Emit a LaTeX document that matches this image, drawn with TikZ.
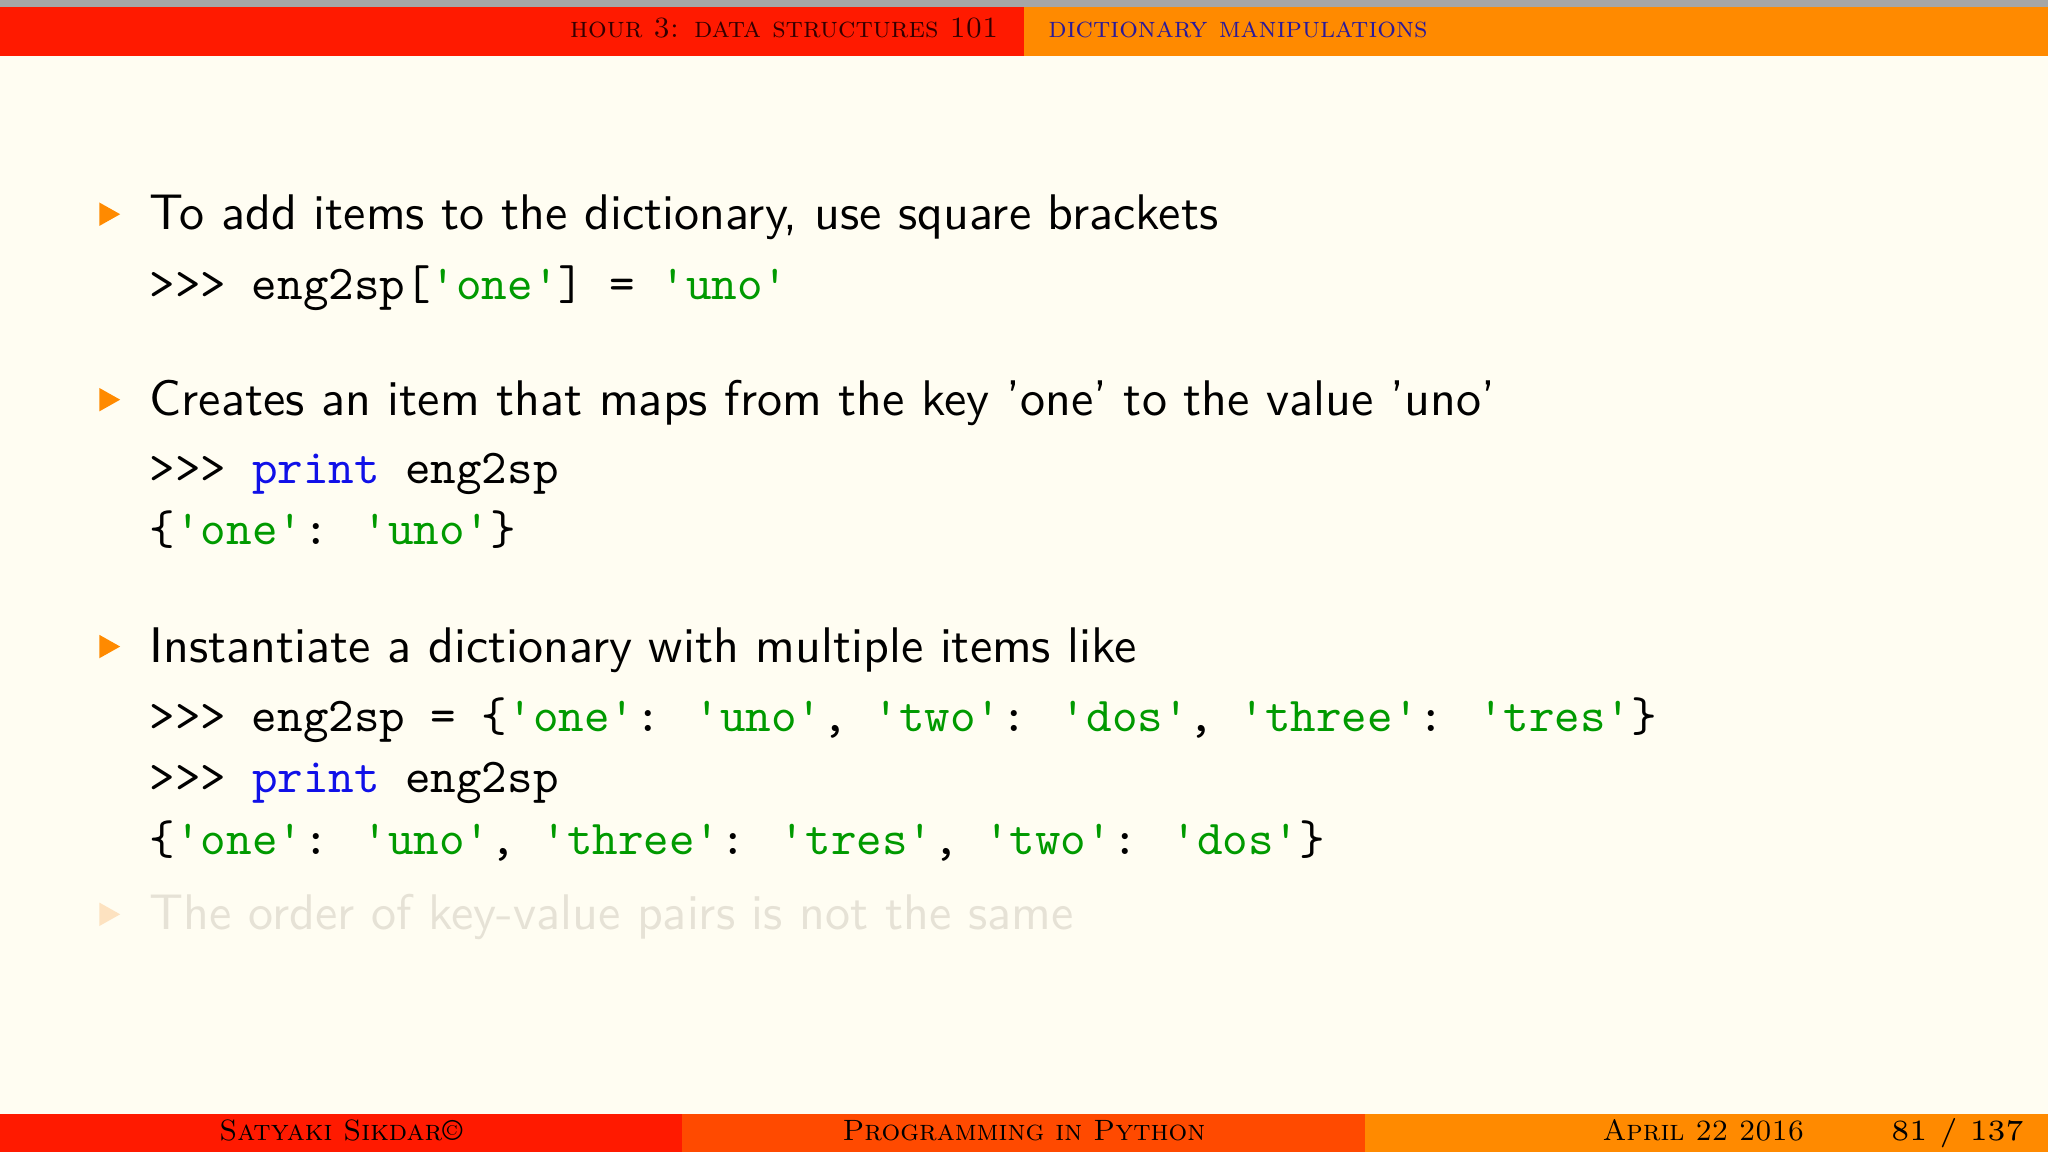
\documentclass[tikz,border=0pt]{standalone}
\usepackage{fontspec}
\definecolor{bg}{HTML}{FFFDF2}
\definecolor{hred}{HTML}{FF1A00}
\definecolor{hmid}{HTML}{FF4A00}
\definecolor{horange}{HTML}{FF8A00}
\definecolor{strg}{HTML}{009A00}
\definecolor{kwb}{HTML}{1010E8}
\definecolor{hblue}{HTML}{2A1A9A}
\definecolor{fade}{HTML}{E6E2D6}
\definecolor{fadeb}{HTML}{FDE2C0}
\begin{document}
\begin{tikzpicture}[x=1cm,y=1cm,
  txt/.style={anchor=base west,inner sep=0pt,font=\sffamily\fontsize{10.9}{13}\selectfont},
  code/.style={anchor=base west,inner sep=0pt,font=\ttfamily\fontsize{10.6}{13}\selectfont},
  hdr/.style={inner sep=0pt,font=\rmfamily\fontsize{6.4}{8}\selectfont}]
\fill[bg] (0,0) rectangle (15.68,8.82);
\useasboundingbox (0,0) rectangle (15.68,8.82);
% header
\fill[gray!70] (0,8.76) rectangle (15.68,8.82);
\fill[hred] (0,8.39) rectangle (7.84,8.77);
\fill[horange] (7.84,8.39) rectangle (15.68,8.77);
\node[hdr,anchor=base east,text=black!80!red] (h1) at (7.65,8.53) {\textsc{hour 3: data structures 101}};
\node[hdr,anchor=base west,text=hblue] (h2) at (8.02,8.53) {\textsc{dictionary manipulations}};
% footer
\fill[hred] (0,0) rectangle (5.22,0.29);
\fill[hmid] (5.22,0) rectangle (10.45,0.29);
\fill[horange] (10.45,0) rectangle (15.68,0.29);
\node[hdr,anchor=base] (f1) at (2.61,0.09) {\textsc{Satyaki Sikdar}\textcopyright};
\node[hdr,anchor=base] (f2) at (7.84,0.09) {\textsc{Programming in Python}};
\node[hdr,anchor=base east] (f3) at (13.82,0.09) {\textsc{April 22 2016}};
\node[hdr,anchor=base east] (f4) at (15.5,0.09) {81 / 137};
% bullets
\foreach \y in {7.06,5.64,3.75}{
  \fill[horange] (0.76,\y+0.03) -- (0.76,\y+0.21) -- (0.92,\y+0.12) -- cycle;
}
\fill[fadeb] (0.76,1.73) -- (0.76,1.91) -- (0.92,1.82) -- cycle;
% text
\node[txt] (t1) at (1.14,7.06) {To add items to the dictionary, use square brackets};
\node[code] (c1) at (1.14,6.53) {>>> eng2sp[\textcolor{strg}{'one'}] = \textcolor{strg}{'uno'}};
\node[txt] (t2) at (1.14,5.64) {Creates an item that maps from the key 'one' to the value 'uno'};
\node[code] (c2) at (1.14,5.12) {>>> \textcolor{kwb}{print} eng2sp};
\node[code] (c3) at (1.14,4.65) {\{\textcolor{strg}{'one'}: \textcolor{strg}{'uno'}\}};
\node[txt] (t3) at (1.14,3.75) {Instantiate a dictionary with multiple items like};
\node[code] (c4) at (1.14,3.22) {>>> eng2sp = \{\textcolor{strg}{'one'}: \textcolor{strg}{'uno'}, \textcolor{strg}{'two'}: \textcolor{strg}{'dos'}, \textcolor{strg}{'three'}: \textcolor{strg}{'tres'}\}};
\node[code] (c5) at (1.14,2.75) {>>> \textcolor{kwb}{print} eng2sp};
\node[code] (c6) at (1.14,2.28) {\{\textcolor{strg}{'one'}: \textcolor{strg}{'uno'}, \textcolor{strg}{'three'}: \textcolor{strg}{'tres'}, \textcolor{strg}{'two'}: \textcolor{strg}{'dos'}\}};
\node[txt,text=fade] (t4) at (1.14,1.70) {The order of key-value pairs is not the same};
\end{tikzpicture}
\end{document}
